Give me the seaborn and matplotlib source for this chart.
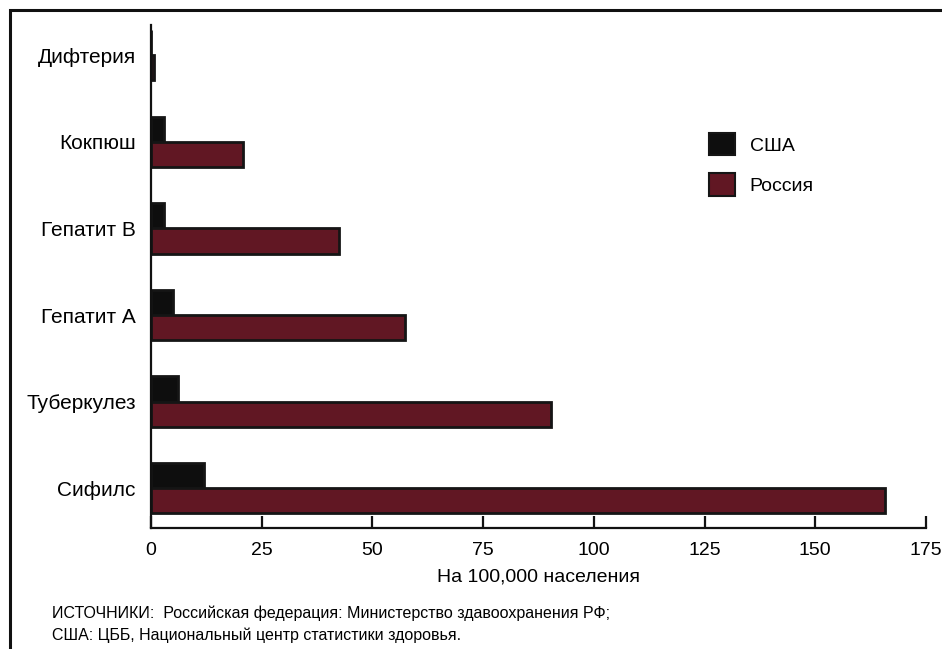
import matplotlib
matplotlib.use("Agg")
import matplotlib.pyplot as plt
from matplotlib.patches import Rectangle, Patch
import seaborn as sns
import pandas as pd

# ---- data ----
categories = ["Дифтерия", "Кокпюш", "Гепатит В", "Гепатит А", "Туберкулез", "Сифилс"]
usa = [0.0, 2.9, 2.9, 5.0, 6.1, 12.0]
russia = [0.7, 20.8, 42.4, 57.3, 90.3, 165.7]
series = ["США", "Россия"]
xticks = [0, 25, 50, 75, 100, 125, 150, 175]
xlabel = "На 100,000 населения"
source_lines = ["ИСТОЧНИКИ:  Российская федерация: Министерство здавоохранения РФ;",
                "США: ЦББ, Национальный центр статистики здоровья."]

df = pd.DataFrame({
    "cat": categories * 2,
    "val": usa + russia,
    "country": [series[0]] * len(categories) + [series[1]] * len(categories),
})

sns.set_theme(style="white")
plt.rcParams["font.family"] = ["Liberation Sans", "DejaVu Sans"]
plt.rcParams["text.color"] = "#000000"
plt.rcParams["axes.labelcolor"] = "#000000"
plt.rcParams["xtick.color"] = "#000000"
plt.rcParams["ytick.color"] = "#000000"

W, H = 942, 649
fig = plt.figure(figsize=(W / 100, H / 100), dpi=100)
ax = fig.add_axes([151 / W, 1 - 528 / H, (926 - 151) / W, (528 - 25) / H])

palette = {series[0]: "#0e0e0e", series[1]: "#611723"}
sns.barplot(data=df, x="val", y="cat", hue="country", order=categories,
            hue_order=series, palette=palette, orient="h", width=0.58,
            edgecolor="#151515", linewidth=2.0, saturation=1, ax=ax, legend=False)

ax.set_xlim(0, 175)
ax.set_ylim(5.46, -0.35)
ax.set_xticks(xticks)
ax.set_xticklabels([str(t) for t in xticks])
ax.set_xlabel(xlabel, fontsize=14, labelpad=7)
ax.set_ylabel("")
ax.tick_params(axis="x", bottom=True, direction="in", length=9, width=1.6,
               color="#111111", labelsize=14, pad=10)
ax.tick_params(axis="y", left=False, length=0, labelsize=15, pad=11)
for s in ["top", "right"]:
    ax.spines[s].set_visible(False)
for s in ["left", "bottom"]:
    ax.spines[s].set_linewidth(1.6)
    ax.spines[s].set_color("#111111")

# legend
handles = [Patch(facecolor=palette[s], edgecolor="#151515", linewidth=1.5) for s in series]
fig.legend(handles, series, loc="upper left", bbox_to_anchor=(709 / W, 1 - 133 / H),
           frameon=False, fontsize=14, handlelength=1.35, handleheight=1.4,
           handletextpad=0.75, labelspacing=0.92, borderpad=0, borderaxespad=0)

# source text
fig.text(52 / W, 1 - 613 / H, source_lines[0], fontsize=11.5, va="center", ha="left")
fig.text(52 / W, 1 - 635 / H, source_lines[1], fontsize=11.5, va="center", ha="left")

# outer frame (extends past right/bottom edges)
fig.patches.append(Rectangle((10 / W, -0.2), 1.5, 1.2 - 10 / H, transform=fig.transFigure,
                             fill=False, edgecolor="#111111", linewidth=2.2, clip_on=False))

fig.savefig("out.png", dpi=100)
